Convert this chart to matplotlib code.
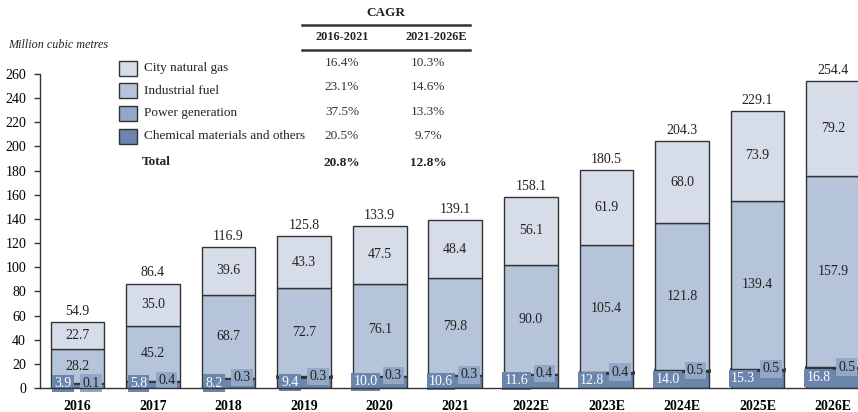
import matplotlib
matplotlib.use("Agg")
import matplotlib.pyplot as plt
from matplotlib.patches import Rectangle
from matplotlib.lines import Line2D

plt.rcParams['font.family'] = ['Liberation Serif', 'DejaVu Serif']

years = ['2016', '2017', '2018', '2019', '2020', '2021', '2022E', '2023E', '2024E', '2025E', '2026E']
chem = [3.9, 5.8, 8.2, 9.4, 10.0, 10.6, 11.6, 12.8, 14.0, 15.3, 16.8]
power = [0.1, 0.4, 0.3, 0.3, 0.3, 0.3, 0.4, 0.4, 0.5, 0.5, 0.5]
industrial = [28.2, 45.2, 68.7, 72.7, 76.1, 79.8, 90.0, 105.4, 121.8, 139.4, 157.9]
city = [22.7, 35.0, 39.6, 43.3, 47.5, 48.4, 56.1, 61.9, 68.0, 73.9, 79.2]
totals = [54.9, 86.4, 116.9, 125.8, 133.9, 139.1, 158.1, 180.5, 204.3, 229.1, 254.4]

series_names = ['City natural gas', 'Industrial fuel', 'Power generation', 'Chemical materials and others']
cagr_1621 = ['16.4%', '23.1%', '37.5%', '20.5%']
cagr_2126 = ['10.3%', '14.6%', '13.3%', '9.7%']
total_cagr = ['20.8%', '12.8%']

c_city = '#d6dde9'
c_ind = '#b5c4d8'
c_pow = '#92a8c6'
c_chem = '#6b86ad'
edge = '#333333'
colors = [c_city, c_ind, c_pow, c_chem]

W, H = 858, 412
fig = plt.figure(figsize=(W / 100, H / 100), dpi=100)
ax = fig.add_axes([40 / W, 1 - 388 / H, 1 - 40 / W, (388 - 74) / H])

x = list(range(len(years)))
bw = 0.71
b1 = chem
b2 = [a + b for a, b in zip(chem, power)]
b3 = [a + b for a, b in zip(b2, industrial)]

ax.bar(x, chem, bw, color=c_chem, edgecolor=edge, linewidth=1, zorder=2)
ax.bar(x, power, bw, bottom=b1, color=c_pow, edgecolor=edge, linewidth=2, zorder=2)
ax.bar(x, industrial, bw, bottom=b2, color=c_ind, edgecolor=edge, linewidth=1, zorder=2)
ax.bar(x, city, bw, bottom=b3, color=c_city, edgecolor=edge, linewidth=1, zorder=2)

fs = 10
for i in x:
    ax.text(i, b2[i] + industrial[i] / 2, f'{industrial[i]:.1f}', ha='center', va='center', fontsize=fs, color='#222222', zorder=4)
    ax.text(i, b3[i] + city[i] / 2, f'{city[i]:.1f}', ha='center', va='center', fontsize=fs, color='#222222', zorder=4)
    ax.annotate(f'{totals[i]:.1f}', (i, totals[i]), xytext=(0, 3), textcoords='offset points',
                ha='center', va='bottom', fontsize=fs, color='#222222', annotation_clip=False, zorder=4)
    ax.text(i - 0.19, max(chem[i] / 2, 3.9), f'{chem[i]:.1f}', ha='center', va='center', fontsize=fs,
            color='white', zorder=5, clip_on=False,
            bbox=dict(boxstyle='square,pad=0.16', facecolor=c_chem, edgecolor='none'))
    ax.text(i + 0.18, b2[i], f'{power[i]:.1f}', ha='center', va='center', fontsize=fs,
            color='#222222', zorder=5, clip_on=False,
            bbox=dict(boxstyle='square,pad=0.16', facecolor=c_pow, edgecolor='none'))

ax.set_xlim(-0.496, 10.33)
ax.set_ylim(0, 260)
ax.set_yticks(range(0, 261, 20))
ax.set_xticks(x)
ax.set_xticklabels(years, fontweight='bold', fontsize=fs)
ax.tick_params(axis='x', length=0, pad=9)
ax.tick_params(axis='y', length=4, width=1, color=edge, labelsize=fs, pad=6)
for s in ['top', 'right']:
    ax.spines[s].set_visible(False)
for s in ['left', 'bottom']:
    ax.spines[s].set_color(edge)
    ax.spines[s].set_linewidth(1)
ax.spines['bottom'].set_zorder(6)
ax.spines['left'].set_zorder(1)


def fx(px):
    return px / W


def fy(py):
    return 1 - py / H


fig.text(fx(8), fy(45), 'Million cubic metres', style='italic', fontsize=8.7, ha='left', va='center', color='#222222')

# legend
rows_y = [68, 90.5, 113, 136]
for name, col, yy in zip(series_names, colors, rows_y):
    fig.patches.append(Rectangle((fx(119), fy(yy + 7.5)), 18 / W, 15 / H, transform=fig.transFigure,
                                 facecolor=col, edgecolor=edge, linewidth=1))
    fig.text(fx(144), fy(yy), name, fontsize=9.5, ha='left', va='center', color='#222222')
fig.text(fx(142), fy(162), 'Total', fontsize=9.5, fontweight='bold', ha='left', va='center', color='#222222')

# CAGR table
fig.text(fx(386), fy(13), 'CAGR', fontsize=9.5, fontweight='bold', ha='center', va='center', color='#222222')
for yy in [25, 50]:
    fig.add_artist(Line2D([fx(302), fx(470)], [fy(yy), fy(yy)], transform=fig.transFigure, color='#333333', linewidth=1.8))
fig.text(fx(342), fy(37.5), '2016-2021', fontsize=8.8, fontweight='bold', ha='center', va='center', color='#222222')
fig.text(fx(436), fy(37.5), '2021-2026E', fontsize=8.8, fontweight='bold', ha='center', va='center', color='#222222')
for a, b, yy in zip(cagr_1621, cagr_2126, [63, 87, 112, 136]):
    fig.text(fx(342), fy(yy), a, fontsize=9.5, ha='center', va='center', color='#333333')
    fig.text(fx(428), fy(yy), b, fontsize=9.5, ha='center', va='center', color='#333333')
fig.text(fx(342), fy(163), total_cagr[0], fontsize=9.5, fontweight='bold', ha='center', va='center', color='#222222')
fig.text(fx(428), fy(163), total_cagr[1], fontsize=9.5, fontweight='bold', ha='center', va='center', color='#222222')

fig.savefig('out.png', dpi=100)
